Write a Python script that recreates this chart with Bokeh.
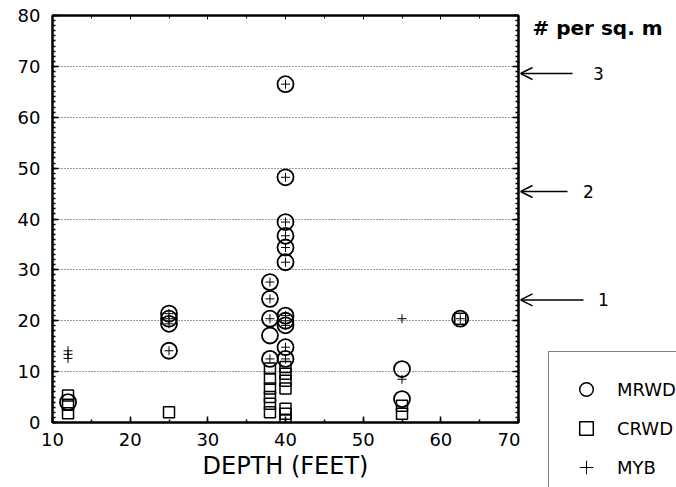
from bokeh.plotting import figure
from bokeh.layouts import row
from bokeh.models import (LinearAxis, SingleIntervalTicker, Legend, LegendItem,
                          Label, Arrow, OpenHead, Range1d)
from bokeh.embed import file_html
from bokeh.resources import INLINE

FONT = "DejaVu Sans"

# MRWD (circles)
mrwd_depth = [12, 25, 25, 25, 25, 38, 38, 38, 38, 38,
              40, 40, 40, 40, 40, 40, 40, 40, 40, 40, 40, 55, 55, 62.5]
mrwd_val = [4.0, 21.4, 20.4, 19.4, 14.1, 27.6, 24.3, 20.4, 17.1, 12.5,
            66.5, 48.2, 39.4, 36.7, 34.4, 31.5, 21.0, 20.0, 19.1, 14.8, 12.5, 10.5, 4.6, 20.4]

# CRWD (squares)
crwd_depth = [12, 12, 12, 25, 38, 38, 38, 38, 38, 38,
              40, 40, 40, 40, 40, 40, 40, 55, 55, 62.5]
crwd_val = [5.3, 3.5, 1.8, 2.0, 10.6, 8.6, 6.7, 5.0, 3.7, 2.0,
            10.9, 9.6, 8.2, 6.7, 2.7, 1.7, 0.4, 3.3, 1.7, 20.4]

# MYB (crosses)
myb_depth = [12, 12, 12, 25, 25, 25, 25, 38, 38, 38, 38,
             40, 40, 40, 40, 40, 40, 40, 40, 40, 40, 40, 55, 55, 62.5]
myb_val = [12.6, 13.4, 14.1, 21.4, 20.4, 19.4, 14.1, 27.6, 24.3, 20.4, 12.5,
           66.5, 48.2, 39.4, 36.7, 34.4, 31.5, 21.0, 20.0, 19.1, 14.8, 12.5, 20.4, 8.5, 20.4]

# reference levels (# per sq. m) shown with arrows at the right
ref_levels = [68.6, 45.4, 24.1]
ref_labels = ["3", "2", "1"]

# ---- geometry (pixels) ----
W_MAIN, H = 520, 487
LEFT, TOP, BOTTOM, RIGHT = 52, 15, 65, 2
W_SIDE = 676 - W_MAIN
Y0, Y1 = 0, 80
frame_h = H - TOP - BOTTOM
per_px = (Y1 - Y0) / frame_h

p = figure(width=W_MAIN, height=H, x_range=Range1d(10, 70), y_range=Range1d(Y0, Y1),
           output_backend="svg", toolbar_location=None,
           min_border_left=LEFT, min_border_right=RIGHT, min_border_top=TOP,
           min_border_bottom=BOTTOM, x_axis_label="DEPTH (FEET)")
p.frame_align = False
p.background_fill_color = "white"
p.border_fill_color = "white"
p.outline_line_color = "black"
p.outline_line_width = 2

p.xaxis.ticker = SingleIntervalTicker(interval=10, num_minor_ticks=2)
p.yaxis.ticker = SingleIntervalTicker(interval=10, num_minor_ticks=10)
for ax in p.xaxis + p.yaxis:
    ax.major_label_text_font = FONT
    ax.major_label_text_font_size = "18px"
    ax.major_label_text_color = "black"
    ax.major_tick_in = 6
    ax.major_tick_out = 0
    ax.minor_tick_in = 3
    ax.minor_tick_out = 0
    ax.axis_line_width = 2
    ax.major_tick_line_width = 1.5
    ax.minor_tick_line_width = 1.5
p.xaxis.major_label_standoff = 10
p.yaxis.major_label_standoff = 12
p.xaxis.axis_label_text_font = FONT
p.xaxis.axis_label_text_font_size = "24px"
p.xaxis.axis_label_text_font_style = "normal"
p.xaxis.axis_label_text_color = "black"
p.xaxis.axis_label_standoff = 3

right = LinearAxis(ticker=SingleIntervalTicker(interval=10, num_minor_ticks=10),
                   major_tick_in=6, major_tick_out=0, minor_tick_in=3, minor_tick_out=0,
                   axis_line_width=2, major_tick_line_width=1.5, minor_tick_line_width=1.5,
                   major_label_standoff=0,
                   major_label_overrides={v: "" for v in range(0, 90, 10)})
p.add_layout(right, "right")
top = LinearAxis(ticker=SingleIntervalTicker(interval=10, num_minor_ticks=2),
                 major_tick_in=4, major_tick_out=0, minor_tick_in=3, minor_tick_out=0,
                 axis_line_width=2, major_label_standoff=0,
                 major_label_overrides={v: "" for v in range(10, 80, 10)})
p.add_layout(top, "above")

p.xgrid.visible = False
p.ygrid.ticker = SingleIntervalTicker(interval=10)
p.ygrid.grid_line_color = "#333333"
p.ygrid.grid_line_dash = "1 2"
p.ygrid.grid_line_width = 1

p.scatter(mrwd_depth, mrwd_val, marker="circle", size=16, fill_color=None,
          line_color="black", line_width=1.8)
p.scatter(crwd_depth, crwd_val, marker="square", size=11, fill_color=None,
          line_color="black", line_width=1.5)
p.scatter(myb_depth, myb_val, marker="cross", size=9, line_color="black", line_width=1)

# ---- side panel: units label, arrows and legend ----
s = figure(width=W_SIDE, height=H, x_range=Range1d(0, W_SIDE),
           y_range=Range1d(Y0 - BOTTOM * per_px, Y1 + TOP * per_px),
           output_backend="svg", toolbar_location=None,
           x_axis_location=None, y_axis_location=None,
           min_border_left=0, min_border_right=0, min_border_top=0, min_border_bottom=0)
s.frame_align = False
s.grid.visible = False
s.outline_line_color = None
s.background_fill_color = "white"
s.border_fill_color = "white"

# legend-only renderers (hidden; they carry the series' styles into the legend)
lc = s.scatter(mrwd_depth, mrwd_val, marker="circle", fill_color=None,
               line_color="black", line_width=1.5, visible=False)
ls = s.scatter(crwd_depth, crwd_val, marker="square", fill_color=None,
               line_color="black", line_width=1.5, visible=False)
lx = s.scatter(myb_depth, myb_val, marker="cross", line_color="black", line_width=1,
               visible=False)

legend = Legend(items=[LegendItem(label="MRWD", renderers=[lc]),
                       LegendItem(label="CRWD", renderers=[ls]),
                       LegendItem(label="MYB", renderers=[lx])],
                location=(28, -18), glyph_height=34, glyph_width=34, label_height=34,
                spacing=5, padding=20, label_standoff=14,
                label_text_font=FONT, label_text_font_size="18px", label_text_color="black",
                border_line_color="black", border_line_width=1.5,
                background_fill_color="white", background_fill_alpha=1,
                inactive_fill_alpha=0)
s.add_layout(legend, "center")

s.add_layout(Label(x=12, y=Y1 - 12 * per_px, text="# per sq. m", text_font=FONT,
                   text_font_size="20px", text_font_style="bold", text_align="left",
                   text_baseline="middle", text_color="black"))
tail_px = [52, 47, 63]
label_px = [78, 68, 83]
for lv, lb, tx, lxp in zip(ref_levels, ref_labels, tail_px, label_px):
    s.add_layout(Arrow(x_start=tx, y_start=lv, x_end=0, y_end=lv,
                       line_color="black", line_width=1.5,
                       end=OpenHead(size=12, line_width=1.5, line_color="black")))
    s.add_layout(Label(x=lxp, y=lv, text=lb, text_font=FONT, text_font_size="17px",
                       text_align="center", text_baseline="middle", text_color="black"))

layout = row(p, s, spacing=0)
open("out.html", "w").write(file_html(layout, INLINE))
